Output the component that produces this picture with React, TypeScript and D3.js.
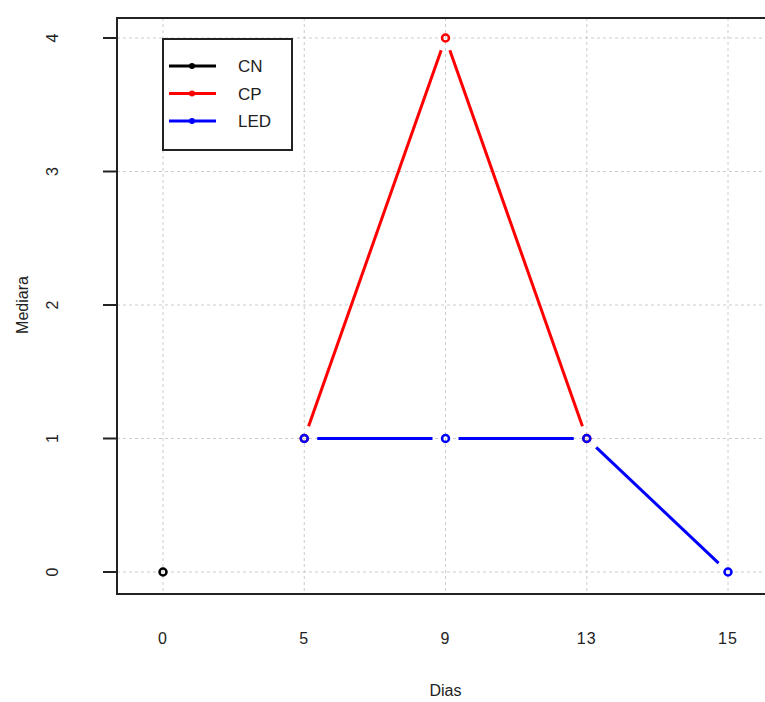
import React, { useEffect, useRef } from "react";
import * as d3 from "d3";

const days = ["0", "5", "9", "13", "15"];
const yTicks = [0, 1, 2, 3, 4];
const seriesNames = ["CN", "CP", "LED"];
const seriesColors = ["#000000", "#ff0000", "#0000ff"];
const cnValues = [{ day: "0", v: 0 }];
const cpValues = [
  { day: "5", v: 1 },
  { day: "9", v: 4 },
  { day: "13", v: 1 },
];
const ledValues = [
  { day: "5", v: 1 },
  { day: "9", v: 1 },
  { day: "13", v: 1 },
  { day: "15", v: 0 },
];

export default function App() {
  const ref = useRef<SVGSVGElement>(null);

  useEffect(() => {
    const svg = d3.select(ref.current);
    svg.selectAll("*").remove();
    const W = 765;
    const H = 702;
    const left = 117;
    const top = 18;
    const bottom = 594;
    const font = "Liberation Sans, Arial, Helvetica, sans-serif";

    const x = d3.scalePoint().domain(days).range([163, 728]);
    const y = d3.scaleLinear().domain([0, 4]).range([572, 38]);

    svg.append("rect").attr("width", W).attr("height", H).attr("fill", "white");

    // grid
    const grid = svg.append("g").attr("stroke", "#cccccc").attr("stroke-width", 1).attr("stroke-dasharray", "3,3");
    days.forEach((d) => {
      grid.append("line").attr("x1", x(d)!).attr("x2", x(d)!).attr("y1", top).attr("y2", bottom);
    });
    yTicks.forEach((t) => {
      grid.append("line").attr("x1", left).attr("x2", W).attr("y1", y(t)).attr("y2", y(t));
    });

    // box
    svg
      .append("path")
      .attr("d", `M${W},${top}H${left}V${bottom}H${W}`)
      .attr("fill", "none")
      .attr("stroke", "#222")
      .attr("stroke-width", 2);

    // y axis ticks
    yTicks.forEach((t) => {
      svg.append("line").attr("x1", 103).attr("x2", left).attr("y1", y(t)).attr("y2", y(t)).attr("stroke", "#222").attr("stroke-width", 2);
      svg
        .append("text")
        .attr("transform", `translate(58,${y(t)}) rotate(-90)`)
        .attr("text-anchor", "middle")
        .attr("font-family", font)
        .attr("font-size", 16)
        .attr("fill", "#222")
        .text(t);
    });

    days.forEach((d) => {
      svg
        .append("text")
        .attr("x", x(d)!)
        .attr("y", 644)
        .attr("text-anchor", "middle")
        .attr("font-family", font)
        .attr("font-size", 16)
        .attr("letter-spacing", 1)
        .attr("fill", "#222")
        .text(d);
    });

    svg
      .append("text")
      .attr("x", x("9")!)
      .attr("y", 696)
      .attr("text-anchor", "middle")
      .attr("font-family", font)
      .attr("font-size", 16)
      .attr("fill", "#222")
      .text("Dias");

    svg
      .append("text")
      .attr("transform", `translate(28,${y(2)}) rotate(-90)`)
      .attr("text-anchor", "middle")
      .attr("font-family", font)
      .attr("font-size", 16)
      .attr("fill", "#222")
      .text("Mediara");

    // series, type "b": lines with gaps around points
    const gap = 13;
    const drawSeries = (vals: { day: string; v: number }[], color: string) => {
      const g = svg.append("g");
      for (let i = 0; i < vals.length - 1; i++) {
        const x1 = x(vals[i].day)!;
        const y1 = y(vals[i].v);
        const x2 = x(vals[i + 1].day)!;
        const y2 = y(vals[i + 1].v);
        const len = Math.hypot(x2 - x1, y2 - y1);
        const ux = (x2 - x1) / len;
        const uy = (y2 - y1) / len;
        g.append("line")
          .attr("x1", x1 + ux * gap)
          .attr("y1", y1 + uy * gap)
          .attr("x2", x2 - ux * gap)
          .attr("y2", y2 - uy * gap)
          .attr("stroke", color)
          .attr("stroke-width", 3);
      }
      g.selectAll("circle")
        .data(vals)
        .join("circle")
        .attr("cx", (d) => x(d.day)!)
        .attr("cy", (d) => y(d.v))
        .attr("r", 3.5)
        .attr("fill", "none")
        .attr("stroke", color)
        .attr("stroke-width", 2.5);
    };
    drawSeries(cnValues, seriesColors[0]);
    drawSeries(cpValues, seriesColors[1]);
    drawSeries(ledValues, seriesColors[2]);

    // legend
    const lg = svg.append("g");
    lg.append("rect").attr("x", 163).attr("y", 39).attr("width", 129).attr("height", 111).attr("fill", "white").attr("stroke", "#222").attr("stroke-width", 2);
    seriesNames.forEach((name, i) => {
      const ly = 66 + i * 27.5;
      lg.append("line").attr("x1", 169).attr("x2", 216).attr("y1", ly).attr("y2", ly).attr("stroke", seriesColors[i]).attr("stroke-width", 3);
      lg.append("circle").attr("cx", 192).attr("cy", ly).attr("r", 3).attr("fill", seriesColors[i]);
      lg.append("text")
        .attr("x", 238)
        .attr("y", ly + 6)
        .attr("font-family", font)
        .attr("font-size", 17)
        .attr("fill", "#222")
        .text(name);
    });
  }, []);

  return (
    <div style={{ position: "absolute", left: 0, top: 0 }}>
      <svg ref={ref} width={765} height={702} style={{ display: "block" }} />
    </div>
  );
}
